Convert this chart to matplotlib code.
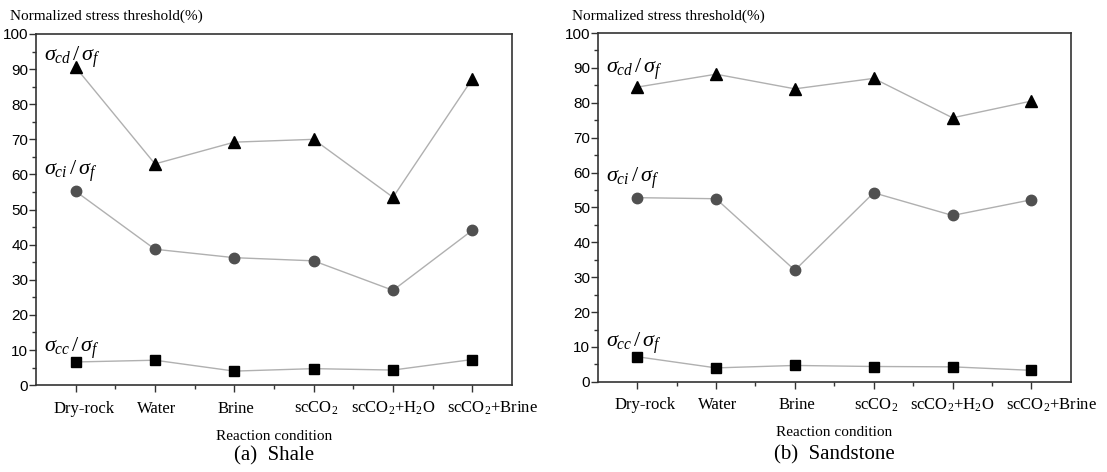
import matplotlib

matplotlib.use("Agg")
import matplotlib.pyplot as plt
import matplotlib.transforms as mtransforms
from matplotlib.ticker import MultipleLocator

plt.rcParams["mathtext.fontset"] = "custom"
plt.rcParams["mathtext.rm"] = "Liberation Serif"
plt.rcParams["mathtext.it"] = "Liberation Serif:italic"

conditions = ["Dry-rock", "Water", "Brine", "scCO$_2$", "scCO$_2$+H$_2$O", "scCO$_2$+Brine"]

# shale
shale_cd = [90.5, 63.0, 69.2, 70.0, 53.5, 87.2]
shale_ci = [55.2, 38.7, 36.3, 35.4, 27.0, 44.1]
shale_cc = [6.6, 7.1, 4.0, 4.7, 4.3, 7.3]

# sandstone
sand_cd = [84.5, 88.2, 84.0, 87.0, 75.7, 80.5]
sand_ci = [52.8, 52.5, 32.0, 54.2, 47.7, 52.2]
sand_cc = [7.2, 4.0, 4.7, 4.4, 4.3, 3.3]

LINE = "#b0b0b0"
SERIF = "Liberation Serif"
SANS = "Liberation Sans"
# the original nudges a few x labels sideways (pixels)
LABEL_SHIFT = [8, 2, 2, 2, 0, 20]


def panel(fig, ax, cd, ci, cc, label_y, caption, cap_y):
    x = list(range(len(conditions)))
    ax.plot(x, cd, color=LINE, lw=1.0, marker="^", ms=8, mfc="black", mec="black")
    ax.plot(x, ci, color=LINE, lw=1.0, marker="o", ms=7.5, mfc="#505050", mec="#505050")
    ax.plot(x, cc, color=LINE, lw=1.0, marker="s", ms=7, mfc="black", mec="black")
    ax.set_xlim(-0.5, 5.5)
    ax.set_ylim(0, 100)
    ax.yaxis.set_major_locator(MultipleLocator(10))
    ax.yaxis.set_minor_locator(MultipleLocator(5))
    ax.set_xticks(x)
    ax.set_xticks([i + 0.5 for i in x[:-1]], minor=True)
    ax.set_xticklabels([])
    base = ax.get_xaxis_transform()
    for i, (name, dx) in enumerate(zip(conditions, LABEL_SHIFT)):
        tr = base + mtransforms.ScaledTranslation(dx / 100, -0.235, fig.dpi_scale_trans)
        ax.text(i, 0, name, transform=tr, fontfamily=SERIF, fontsize=12,
                ha="center", va="center")
    for t in ax.get_yticklabels():
        t.set_fontfamily(SANS)
        t.set_fontsize(11)
    ax.tick_params(which="major", direction="out", length=5, width=1, color="#333333")
    ax.tick_params(which="minor", direction="out", length=3, width=1, color="#333333")
    ax.tick_params(axis="y", which="major", pad=0.5)
    for s in ax.spines.values():
        s.set_color("#333333")
        s.set_linewidth(1.2)
    names = [r"$\sigma_{cd}\,/\,\sigma_f$", r"$\sigma_{ci}\,/\,\sigma_f$", r"$\sigma_{cc}\,/\,\sigma_f$"]
    for name, y in zip(names, label_y):
        ax.text(-0.4, y, name, fontsize=16, ha="left", va="center")
    ax.text(-0.055, 1.03, "Normalized stress threshold(%)", transform=ax.transAxes,
            fontfamily=SERIF, fontsize=11, ha="left", va="bottom")
    ax.text(0.5, -0.145, "Reaction condition", transform=ax.transAxes,
            fontfamily=SERIF, fontsize=11, ha="center", va="center")
    ax.text(0.5, cap_y, caption, transform=ax.transAxes,
            fontfamily=SERIF, fontsize=15, ha="center", va="center")


fig = plt.figure(figsize=(11.07, 4.72), dpi=100)
ax1 = fig.add_axes([0.0325, 0.184, 0.430, 0.744])
ax2 = fig.add_axes([0.540, 0.191, 0.4273, 0.739])

panel(fig, ax1, shale_cd, shale_ci, shale_cc, [93.5, 61.0, 10.5], "(a)  Shale", -0.2)
panel(fig, ax2, sand_cd, sand_ci, sand_cc, [89.5, 58.5, 11.0], "(b)  Sandstone", -0.21)

fig.savefig("out.png", dpi=100)
